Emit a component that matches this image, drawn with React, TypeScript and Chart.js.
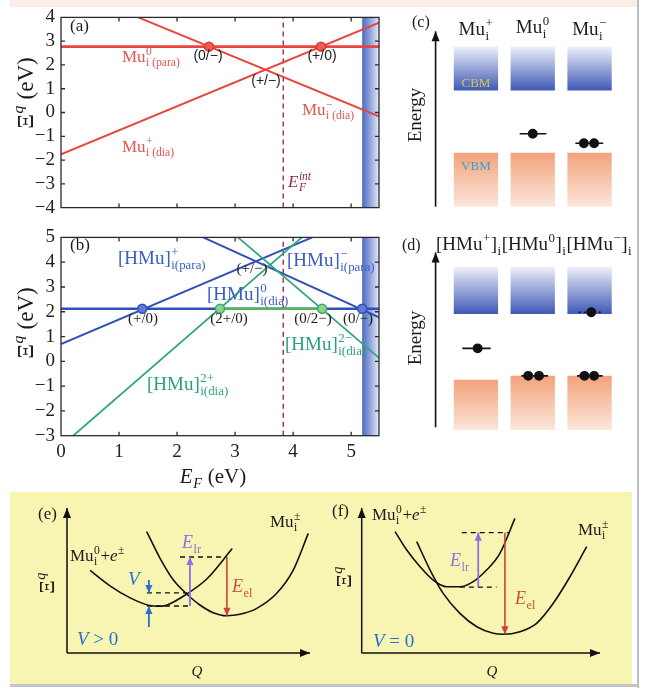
import { useEffect, useRef } from 'react';
import { Chart, registerables } from 'chart.js';

Chart.register(...registerables);

const SERIF = '"Liberation Serif", "Times New Roman", serif';
const SANS = '"Liberation Sans", Arial, sans-serif';

type Pt = [number, number];

// ---------- (a) Mu_i formation energies against the Fermi level ----------
const EF_MAX = 5.48;
const EF_INT = 3.83;
const CBM_EDGE = 5.19;
const X_TICKS = [1, 2, 3, 4, 5];
const A_Y: Pt = [-4, 4];
const A_Y_TICKS = [-3, -2, -1, 0, 1, 2, 3];
const MU0_PARA: Pt[] = [[0, 2.77], [5.48, 2.77]];
const MU_MINUS_DIA: Pt[] = [[1.33, 4], [5.48, -0.16]];
const MU_PLUS_DIA: Pt[] = [[0, -1.76], [5.48, 3.78]];
const A_LEVELS: Pt[] = [[2.55, 2.77], [4.48, 2.77]];

// ---------- (b) [HMu]_i formation energies ----------
const B_Y: Pt = [-3, 5];
const B_Y_TICKS = [-2, -1, 0, 1, 2, 3, 4];
const HMU0_DIA: Pt[] = [[0, 2.12], [5.48, 2.12]];
const HMU_PLUS_PARA: Pt[] = [[0, 0.7], [4.33, 5]];
const HMU_MINUS_PARA: Pt[] = [[2.45, 5], [5.48, 1.77]];
const HMU_2PLUS_DIA: Pt[] = [[0.21, -3], [4.15, 5]];
const HMU_2MINUS_DIA: Pt[] = [[3.05, 5], [5.48, 0.14]];
const HMU0_STABLE: Pt[] = [[2.74, 2.12], [4.5, 2.12]];
const B_BLUE_LEVELS: Pt[] = [[1.4, 2.12], [5.19, 2.12]];
const B_GREEN_LEVELS: Pt[] = [[2.74, 2.12], [4.5, 2.12]];

// ---------- (c), (d) band-edge schematics ----------
const COLS = [1, 2, 3];
const C_CBM: Pt[] = [[5.8, 8], [5.8, 8], [5.8, 8]];
const C_VBM: Pt[] = [[0, 2.7], [0, 2.7], [0, 2.7]];
const C_AXIS: Pt[] = [[0.29, 0], [0.29, 8.76]];
const C_LEVELS = [
  { x: [1.77, 2.24], y: 3.64, e: [2.0], dotted: false },
  { x: [2.75, 3.24], y: 3.17, e: [2.9, 3.08], dotted: false },
];
const D_CBM: Pt[] = [[5.78, 8.14], [5.78, 8.14], [5.78, 8.14]];
const D_VBM: Pt[] = [[0, 2.51], [0, 2.7], [0, 2.7]];
const D_AXIS: Pt[] = [[0.29, 0.14], [0.29, 8.85]];
const D_LEVELS = [
  { x: [0.76, 1.26], y: 4.07, e: [1.03], dotted: false },
  { x: [1.8, 2.27], y: 2.7, e: [1.92, 2.11], dotted: false },
  { x: [2.78, 3.23], y: 2.7, e: [2.91, 3.08], dotted: false },
  { x: [2.81, 3.23], y: 5.87, e: [3.03], dotted: true },
];

// ---------- (e), (f) configuration-coordinate diagrams (Q, Ξ) ----------
const AXIS_UP: Pt[] = [[0, 0], [0, 10]];
const AXIS_RIGHT: Pt[] = [[0, 0], [10, 0]];
const E_NEUTRAL: Pt[] = [[0.95, 5.7], [1.8, 4.6], [2.6, 3.8], [3.4, 3.27], [3.75, 3.22], [4.1, 3.3], [4.93, 4.07], [5.75, 5.1], [6.8, 7.2]];
const E_CHARGED: Pt[] = [[3.28, 8.37], [3.83, 6.53], [4.38, 5.03], [4.93, 4.07], [5.47, 3.31], [6.02, 2.78], [6.57, 2.57], [7.12, 2.67], [7.81, 3.08], [8.63, 4.12], [9.31, 5.72], [9.93, 8.25]];
const E_DASH_TOP: Pt[] = [[4.65, 6.62], [6.58, 6.62]];
const E_DASH_MID: Pt[] = [[3.29, 4.14], [4.94, 4.14]];
const E_DASH_LOW: Pt[] = [[3.29, 3.24], [5.06, 3.24]];
const E_V_DOWN: Pt[] = [[3.37, 5.03], [3.37, 4.14]];
const E_V_UP: Pt[] = [[3.37, 1.79], [3.37, 3.24]];
const E_LR: Pt[] = [[5.06, 3.24], [5.06, 6.62]];
const E_EL: Pt[] = [[6.58, 6.62], [6.58, 2.57]];

const F_NEUTRAL: Pt[] = [[1.4, 8.37], [1.89, 7.1], [2.45, 5.95], [3.0, 5.03], [3.57, 4.57], [4.12, 4.57], [4.68, 4.92], [5.24, 5.72], [5.8, 6.87], [6.43, 9.28]];
const F_CHARGED: Pt[] = [[2.31, 7.68], [2.87, 5.72], [3.42, 4.11], [4.12, 2.73], [4.83, 1.81], [5.52, 1.36], [5.94, 1.29], [6.64, 1.47], [7.34, 2.05], [8.04, 3.43], [8.74, 5.26], [9.44, 7.33]];
const F_DASH_TOP: Pt[] = [[4.2, 8.3], [6.22, 8.3]];
const F_DASH_LOW: Pt[] = [[4.12, 4.55], [5.66, 4.55]];
const F_LR: Pt[] = [[4.89, 4.55], [4.89, 8.3]];
const F_EL: Pt[] = [[6.01, 8.3], [6.01, 1.29]];

// ---------- colours ----------
const RED = '#e8453e';
const RED_TXT = '#e05651';
const BLUE = '#3050b8';
const BLUE_TXT = '#3a5cc8';
const GREEN = '#2fa67c';
const GREEN_TXT = '#2a9f82';
const INK = '#1c1c1c';
const ARROW_BLUE = '#2a6fd6';
const ARROW_PURPLE = '#8a70e0';
const ARROW_RED = '#c8433a';

// ---------- rich text (sub/superscripts) ----------
type Seg = { t: string; it?: boolean; sup?: string; sub?: string; sit?: boolean };
type Note = {
  segs: Seg[]; x?: number; y?: number; xv?: number; yv?: number;
  size: number; color?: string; align?: 'left' | 'center' | 'right'; rot?: boolean; fam?: string;
};

function drawRich(ctx: CanvasRenderingContext2D, segs: Seg[], x: number, y: number, size: number,
  color: string, align: string, fam: string) {
  const small = size * 0.68;
  const bf = (it?: boolean) => `${it ? 'italic ' : ''}${size}px ${fam}`;
  const sf = (it?: boolean) => `${it ? 'italic ' : ''}${small}px ${fam}`;
  const parts = segs.map((s) => {
    ctx.font = bf(s.it);
    const bw = ctx.measureText(s.t).width;
    ctx.font = sf(s.sit);
    let sw = 0;
    if (s.sup) sw = Math.max(sw, ctx.measureText(s.sup).width);
    if (s.sub) sw = Math.max(sw, ctx.measureText(s.sub).width);
    return { bw, sw: sw ? sw + 1 : 0 };
  });
  const total = parts.reduce((a, p) => a + p.bw + p.sw, 0);
  let cx = align === 'center' ? x - total / 2 : align === 'right' ? x - total : x;
  ctx.fillStyle = color;
  ctx.textAlign = 'left';
  ctx.textBaseline = 'alphabetic';
  segs.forEach((s, i) => {
    ctx.font = bf(s.it);
    ctx.fillText(s.t, cx, y);
    cx += parts[i].bw;
    ctx.font = sf(s.sit);
    if (s.sup) ctx.fillText(s.sup, cx + 0.5, y - size * 0.42);
    if (s.sub) ctx.fillText(s.sub, cx + 0.5, y + size * 0.26);
    cx += parts[i].sw;
  });
}

// ---------- plugins ----------
function notesPlugin(items: Note[]) {
  return {
    id: 'notes',
    afterDraw(chart: any) {
      const ctx = chart.ctx as CanvasRenderingContext2D;
      for (const n of items) {
        const x = n.xv !== undefined ? chart.scales.x.getPixelForValue(n.xv) : (n.x as number);
        const y = n.yv !== undefined ? chart.scales.y.getPixelForValue(n.yv) : (n.y as number);
        ctx.save();
        ctx.translate(x, y);
        if (n.rot) ctx.rotate(-Math.PI / 2);
        drawRich(ctx, n.segs, 0, 0, n.size, n.color ?? INK, n.align ?? 'left', n.fam ?? SERIF);
        ctx.restore();
      }
    },
  };
}

function bandPlugin(from: number) {
  return {
    id: 'band',
    beforeDatasetsDraw(chart: any) {
      const { ctx, chartArea: a, scales } = chart;
      const x0 = scales.x.getPixelForValue(from);
      const g = ctx.createLinearGradient(x0, 0, a.right, 0);
      g.addColorStop(0, '#4d69c0');
      g.addColorStop(0.45, '#8da0da');
      g.addColorStop(1, '#e6ebf8');
      ctx.save();
      ctx.fillStyle = g;
      ctx.fillRect(x0, a.top, a.right - x0, a.bottom - a.top);
      ctx.restore();
    },
  };
}

function framePlugin(xt: number[], yt: number[]) {
  return {
    id: 'frame',
    afterDatasetsDraw(chart: any) {
      const { ctx, chartArea: a, scales } = chart;
      ctx.save();
      ctx.strokeStyle = '#2b2b2b';
      ctx.lineWidth = 1.3;
      ctx.strokeRect(a.left, a.top, a.right - a.left, a.bottom - a.top);
      ctx.beginPath();
      for (const v of xt) {
        const p = scales.x.getPixelForValue(v);
        ctx.moveTo(p, a.bottom); ctx.lineTo(p, a.bottom - 4);
        ctx.moveTo(p, a.top); ctx.lineTo(p, a.top + 4);
      }
      for (const v of yt) {
        const p = scales.y.getPixelForValue(v);
        ctx.moveTo(a.left, p); ctx.lineTo(a.left + 4, p);
        ctx.moveTo(a.right, p); ctx.lineTo(a.right - 4, p);
      }
      ctx.stroke();
      ctx.restore();
    },
  };
}

// arrow heads on the last point of datasets flagged with `head`
const headPlugin = {
  id: 'heads',
  afterDatasetsDraw(chart: any) {
    const ctx = chart.ctx as CanvasRenderingContext2D;
    chart.data.datasets.forEach((ds: any, i: number) => {
      if (!ds.head) return;
      const pts = chart.getDatasetMeta(i).data;
      const a = pts[pts.length - 2];
      const b = pts[pts.length - 1];
      const ang = Math.atan2(b.y - a.y, b.x - a.x);
      const L = ds.headLen ?? 9;
      const W = ds.headW ?? 3.6;
      const c = Math.cos(ang), s = Math.sin(ang);
      ctx.save();
      ctx.fillStyle = ds.borderColor;
      ctx.beginPath();
      ctx.moveTo(b.x, b.y);
      ctx.lineTo(b.x - L * c + W * s, b.y - L * s - W * c);
      ctx.lineTo(b.x - L * c - W * s, b.y - L * s + W * c);
      ctx.closePath();
      ctx.fill();
      ctx.restore();
    });
  },
};

// ---------- dataset helpers ----------
const xy = (pts: Pt[]) => pts.map(([x, y]) => ({ x, y }));

function line(pts: Pt[], color: string, width = 2, extra: any = {}) {
  return {
    type: 'line', data: xy(pts), borderColor: color, backgroundColor: color, borderWidth: width,
    pointRadius: 0, showLine: true, fill: false, tension: 0, ...extra,
  };
}

function dots(pts: Pt[], fill: string, stroke: string, r = 4.5) {
  return {
    type: 'line', data: xy(pts), showLine: false, pointRadius: r, pointBackgroundColor: fill,
    pointBorderColor: stroke, pointBorderWidth: 1.5, borderColor: stroke, backgroundColor: fill,
  };
}

// Chart.js paints the first dataset on top, so layers are listed bottom-up and reversed
const layers = (sets: any[]) => sets.slice().reverse();

function baseOptions(padding: any, scales: any) {
  return {
    animation: false, responsive: false, events: [],
    layout: { padding },
    plugins: { legend: { display: false }, tooltip: { enabled: false } },
    scales,
  };
}

function feYAxis(r: Pt) {
  return {
    type: 'linear', min: r[0], max: r[1],
    afterFit: (s: any) => { s.width = 61; },
    grid: { display: false, drawTicks: false }, border: { display: false },
    ticks: {
      stepSize: 1, padding: 6, autoSkip: false, color: '#222', font: { family: SERIF, size: 19 },
      callback: (v: any) => String(v).replace('-', '−'),
    },
  };
}

const XI_TITLE: Seg[] = [{ t: 'Ξ', sup: 'q', sit: true }, { t: ' (eV)' }];

// ---------- panel (a) ----------
const A_NOTES: Note[] = [
  { segs: [{ t: '(a)' }], x: 70, y: 31, size: 17 },
  { segs: [{ t: 'Mu', sup: '0', sub: 'i (para)' }], x: 122, y: 62, size: 17, color: RED_TXT },
  { segs: [{ t: '(0/−)' }], x: 208, y: 60, size: 14, align: 'center', fam: SANS },
  { segs: [{ t: '(+/0)' }], x: 322, y: 60, size: 14, align: 'center', fam: SANS },
  { segs: [{ t: '(+/−)' }], x: 266, y: 85, size: 14, align: 'center', fam: SANS },
  { segs: [{ t: 'Mu', sup: '−', sub: 'i (dia)' }], x: 302, y: 115, size: 17, color: RED_TXT },
  { segs: [{ t: 'Mu', sup: '+', sub: 'i (dia)' }], x: 122, y: 152, size: 17, color: RED_TXT },
  { segs: [{ t: 'E', it: true, sub: 'F', sup: 'int', sit: true }], x: 288, y: 187, size: 17, color: '#8e2a3e' },
  { segs: XI_TITLE, x: 33, y: 93, size: 23, align: 'center', rot: true },
];

const buildA = () => ({
  type: 'scatter',
  data: {
    datasets: layers([
      line([[EF_INT, A_Y[0]], [EF_INT, A_Y[1]]], '#9b3b52', 1.5, { borderDash: [5, 4] }),
      line(MU0_PARA, RED, 2.6),
      line(MU_MINUS_DIA, RED, 2),
      line(MU_PLUS_DIA, RED, 2),
      dots(A_LEVELS, '#f25b52', '#d93a33', 4.5),
    ]),
  },
  options: baseOptions({ left: 0, top: 10, right: 11, bottom: 9.5 }, {
    x: { type: 'linear', min: 0, max: EF_MAX, display: false },
    y: feYAxis(A_Y),
  }),
  plugins: [bandPlugin(CBM_EDGE), framePlugin(X_TICKS, A_Y_TICKS), notesPlugin(A_NOTES)],
});

// ---------- panel (b) ----------
const B_NOTES: Note[] = [
  { segs: [{ t: '(b)' }], x: 70, y: 30, size: 17 },
  { segs: [{ t: '[HMu]', sup: '+', sub: 'i(para)' }], x: 118, y: 44, size: 19, color: BLUE_TXT },
  { segs: [{ t: '[HMu]', sup: '−', sub: 'i(para)' }], x: 287, y: 46, size: 19, color: BLUE_TXT },
  { segs: [{ t: '(+/−)' }], x: 252, y: 53, size: 15, align: 'center' },
  { segs: [{ t: '[HMu]', sup: '0', sub: 'i(dia)' }], x: 207, y: 80, size: 19, color: BLUE_TXT },
  { segs: [{ t: '(+/0)' }], x: 143, y: 103, size: 15, align: 'center' },
  { segs: [{ t: '(2+/0)' }], x: 229, y: 103, size: 15, align: 'center' },
  { segs: [{ t: '(0/2−)' }], x: 313, y: 103, size: 15, align: 'center' },
  { segs: [{ t: '(0/−)' }], x: 358, y: 103, size: 15, align: 'center' },
  { segs: [{ t: '[HMu]', sup: '2−', sub: 'i(dia)' }], x: 285, y: 130, size: 19, color: GREEN_TXT },
  { segs: [{ t: '[HMu]', sup: '2+', sub: 'i(dia)' }], x: 147, y: 170, size: 19, color: GREEN_TXT },
  { segs: XI_TITLE, x: 33, y: 103, size: 23, align: 'center', rot: true },
  { segs: [{ t: 'E', it: true, sub: 'F', sit: true }, { t: ' (eV)' }], x: 213, y: 263, size: 21, align: 'center' },
];

const buildB = () => ({
  type: 'scatter',
  data: {
    datasets: layers([
      line([[EF_INT, B_Y[0]], [EF_INT, B_Y[1]]], '#9b3b52', 1.5, { borderDash: [5, 4] }),
      line(HMU0_DIA, BLUE, 2.4),
      line(HMU_PLUS_PARA, BLUE, 2),
      line(HMU_MINUS_PARA, BLUE, 2),
      line(HMU_2PLUS_DIA, GREEN, 1.8),
      line(HMU_2MINUS_DIA, GREEN, 1.8),
      line(HMU0_STABLE, '#55b65a', 2.6),
      dots(B_BLUE_LEVELS, '#5f7bd2', BLUE, 4.5),
      dots(B_GREEN_LEVELS, '#8fd18c', '#3aa86e', 4.5),
    ]),
  },
  options: baseOptions({ left: 0, top: 11.7, right: 11, bottom: 0 }, {
    x: {
      type: 'linear', min: 0, max: EF_MAX,
      afterFit: (s: any) => { s.height = 54.3; },
      grid: { display: false, drawTicks: false }, border: { display: false },
      ticks: { stepSize: 1, includeBounds: false, autoSkip: false, padding: 5, maxRotation: 0, color: '#222', font: { family: SERIF, size: 19 } },
    },
    y: feYAxis(B_Y),
  }),
  plugins: [bandPlugin(CBM_EDGE), framePlugin(X_TICKS, B_Y_TICKS), notesPlugin(B_NOTES)],
});

// ---------- panels (c), (d) ----------
function blockBars(ranges: Pt[], top: string, bottom: string) {
  return {
    type: 'bar',
    data: ranges.map((r, i) => ({ x: COLS[i], y: [r[0], r[1]] })),
    grouped: false, barPercentage: 0.78, categoryPercentage: 1, maxBarThickness: 47, borderWidth: 0,
    backgroundColor: (c: any) => {
      const chart = c.chart;
      if (!chart.chartArea || !c.raw) return bottom;
      const ys = chart.scales.y;
      const g = chart.ctx.createLinearGradient(0, ys.getPixelForValue(c.raw.y[1]), 0, ys.getPixelForValue(c.raw.y[0]));
      g.addColorStop(0, top);
      g.addColorStop(1, bottom);
      return g;
    },
  };
}

function levelSets(levels: { x: number[]; y: number; e: number[]; dotted: boolean }[]) {
  const out: any[] = [];
  for (const l of levels) {
    out.push(line([[l.x[0], l.y], [l.x[1], l.y]], '#111', 1.6, l.dotted ? { borderDash: [2, 3] } : {}));
    out.push(dots(l.e.map((e) => [e, l.y] as Pt), '#111', '#111', 4.2));
  }
  return out;
}

function schematic(cbm: Pt[], vbm: Pt[], axis: Pt[], levels: any[], yr: Pt, notes: Note[]) {
  return {
    type: 'bar',
    data: {
      datasets: layers([
        blockBars(cbm, '#eef1fa', '#3f58b5'),
        blockBars(vbm, '#f3a27c', '#fce6da'),
        line(axis, '#111', 1.6, { head: true, headLen: 10, headW: 4, clip: false }),
        ...levelSets(levels),
      ]),
    },
    options: baseOptions(0, {
      x: { type: 'linear', min: -0.5, max: 3.77, display: false, offset: false, ticks: { stepSize: 1, includeBounds: false } },
      y: { type: 'linear', min: yr[0], max: yr[1], display: false },
    }),
    plugins: [headPlugin, notesPlugin(notes)],
  };
}

const C_NOTES: Note[] = [
  { segs: [{ t: '(c)' }], x: 27, y: 27, size: 16 },
  { segs: [{ t: 'Mu', sup: '+', sub: 'i' }], xv: 1, y: 35, size: 19, align: 'center' },
  { segs: [{ t: 'Mu', sup: '0', sub: 'i' }], xv: 2, y: 33, size: 19, align: 'center' },
  { segs: [{ t: 'Mu', sup: '−', sub: 'i' }], xv: 3, y: 35, size: 19, align: 'center' },
  { segs: [{ t: 'CBM' }], xv: 1, y: 87, size: 13, align: 'center', color: '#d3c94f' },
  { segs: [{ t: 'VBM' }], xv: 1, y: 170, size: 13, align: 'center', color: '#3c9fd2' },
  { segs: [{ t: 'Energy' }], x: 36, y: 115, size: 19, align: 'center', rot: true },
];

const D_NOTES: Note[] = [
  { segs: [{ t: '(d)' }], x: 17, y: 30, size: 16 },
  {
    segs: [
      { t: '[HMu', sup: '+' }, { t: ']', sub: 'i' },
      { t: '[HMu', sup: '0' }, { t: ']', sub: 'i' },
      { t: '[HMu', sup: '−' }, { t: ']', sub: 'i' },
    ],
    x: 51, y: 30, size: 19,
  },
  { segs: [{ t: 'Energy' }], x: 36, y: 118, size: 19, align: 'center', rot: true },
];

const buildC = () => schematic(C_CBM, C_VBM, C_AXIS, C_LEVELS, [-0.38, 10.04], C_NOTES);
const buildD = () => schematic(D_CBM, D_VBM, D_AXIS, D_LEVELS, [-0.71, 10.18], D_NOTES);

// ---------- panels (e), (f) ----------
const curve = (pts: Pt[]) => line(pts, '#111', 1.6, { cubicInterpolationMode: 'monotone', clip: false });
const dashed = (pts: Pt[]) => line(pts, '#111', 1.3, { borderDash: [5, 4], clip: false });
const arrow = (pts: Pt[], color: string, w = 1.8) => line(pts, color, w, { head: true, headLen: 8, headW: 3.6, clip: false });

function ccDiagram(sets: any[], padding: any, notes: Note[]) {
  return {
    type: 'scatter',
    data: {
      datasets: layers([
        line(AXIS_UP, '#111', 1.5, { head: true, headLen: 10, headW: 4, clip: false }),
        line(AXIS_RIGHT, '#111', 1.5, { head: true, headLen: 10, headW: 4, clip: false }),
        ...sets,
      ]),
    },
    options: baseOptions(padding, {
      x: { type: 'linear', min: 0, max: 10, display: false },
      y: { type: 'linear', min: 0, max: 10, display: false },
    }),
    plugins: [headPlugin, notesPlugin(notes)],
  };
}

const XI_SHORT: Seg[] = [{ t: 'Ξ', sup: 'q', sit: true }];
const MU_NEUTRAL_E: Seg[] = [{ t: 'Mu', sup: '0', sub: 'i' }, { t: '+' }, { t: 'e', it: true, sup: '±' }];
const MU_CHARGED: Seg[] = [{ t: 'Mu', sup: '±', sub: 'i' }];

const E_NOTES: Note[] = [
  { segs: [{ t: '(e)' }], x: 25, y: 27, size: 17 },
  { segs: MU_NEUTRAL_E, x: 57, y: 69, size: 17 },
  { segs: MU_CHARGED, x: 257, y: 35, size: 17 },
  { segs: XI_SHORT, x: 41, y: 91, size: 21, align: 'center', rot: true },
  { segs: [{ t: 'V', it: true }], x: 115, y: 93, size: 19, color: ARROW_BLUE },
  { segs: [{ t: 'E', it: true, sub: 'lr' }], x: 169, y: 56, size: 18, color: ARROW_PURPLE },
  { segs: [{ t: 'E', it: true, sub: 'el' }], x: 219, y: 100, size: 18, color: '#c8503a' },
  { segs: [{ t: 'V', it: true }, { t: ' > 0' }], x: 64, y: 153, size: 19, color: ARROW_BLUE },
  { segs: [{ t: 'Q', it: true }], x: 184, y: 184, size: 15, align: 'center' },
];

const F_NOTES: Note[] = [
  { segs: [{ t: '(f)' }], x: 9, y: 24, size: 17 },
  { segs: MU_NEUTRAL_E, x: 49, y: 28, size: 17 },
  { segs: MU_CHARGED, x: 255, y: 43, size: 17 },
  { segs: XI_SHORT, x: 28, y: 85, size: 21, align: 'center', rot: true },
  { segs: [{ t: 'E', it: true, sub: 'lr' }], x: 127, y: 74, size: 18, color: ARROW_PURPLE },
  { segs: [{ t: 'E', it: true, sub: 'el' }], x: 192, y: 112, size: 18, color: '#c8503a' },
  { segs: [{ t: 'V', it: true }, { t: ' = 0' }], x: 50, y: 155, size: 19, color: ARROW_BLUE },
  { segs: [{ t: 'Q', it: true }], x: 169, y: 184, size: 15, align: 'center' },
];

const buildE = () => ccDiagram([
  curve(E_NEUTRAL), curve(E_CHARGED),
  dashed(E_DASH_TOP), dashed(E_DASH_MID), dashed(E_DASH_LOW),
  arrow(E_V_DOWN, ARROW_BLUE), arrow(E_V_UP, ARROW_BLUE),
  arrow(E_LR, ARROW_PURPLE), arrow(E_EL, ARROW_RED, 1.6),
], { left: 54, right: 13, top: 16, bottom: 29 }, E_NOTES);

const buildF = () => ccDiagram([
  curve(F_NEUTRAL), curve(F_CHARGED),
  dashed(F_DASH_TOP), dashed(F_DASH_LOW),
  arrow(F_LR, ARROW_PURPLE), arrow(F_EL, ARROW_RED, 1.6),
], { left: 38.7, right: 32, top: 16, bottom: 29 }, F_NOTES);

// ---------- components ----------
function ChartBox({ x, y, w, h, build }: { x: number; y: number; w: number; h: number; build: () => any }) {
  const ref = useRef<HTMLCanvasElement>(null);
  useEffect(() => {
    if (!ref.current) return;
    const chart = new Chart(ref.current, build());
    return () => chart.destroy();
  }, []);
  return (
    <canvas ref={ref} width={w} height={h}
      style={{ position: 'absolute', left: x, top: y, width: w, height: h }} />
  );
}

export default function App() {
  return (
    <div style={{ position: 'fixed', left: 0, top: 0, width: 645, height: 690, background: '#ffffff', overflow: 'hidden' }}>
      <div style={{ position: 'absolute', left: 10, top: 0, width: 628, height: 7, background: '#fbece6' }} />
      <div style={{ position: 'absolute', left: 10, top: 492, width: 622, height: 192, background: '#f8f4b2' }} />
      <div style={{ position: 'absolute', left: 637, top: 0, width: 2, height: 688, background: '#b9bdcc' }} />
      <div style={{ position: 'absolute', left: 10, top: 684, width: 629, height: 3, background: '#c4c4c4' }} />
      <ChartBox x={0} y={0} w={390} h={225} build={buildA} />
      <ChartBox x={0} y={220} w={390} h={270} build={buildB} />
      <ChartBox x={385} y={0} w={254} h={220} build={buildC} />
      <ChartBox x={385} y={220} w={254} h={230} build={buildD} />
      <ChartBox x={13} y={492} w={310} h={190} build={buildE} />
      <ChartBox x={323} y={492} w={309} h={190} build={buildF} />
    </div>
  );
}
